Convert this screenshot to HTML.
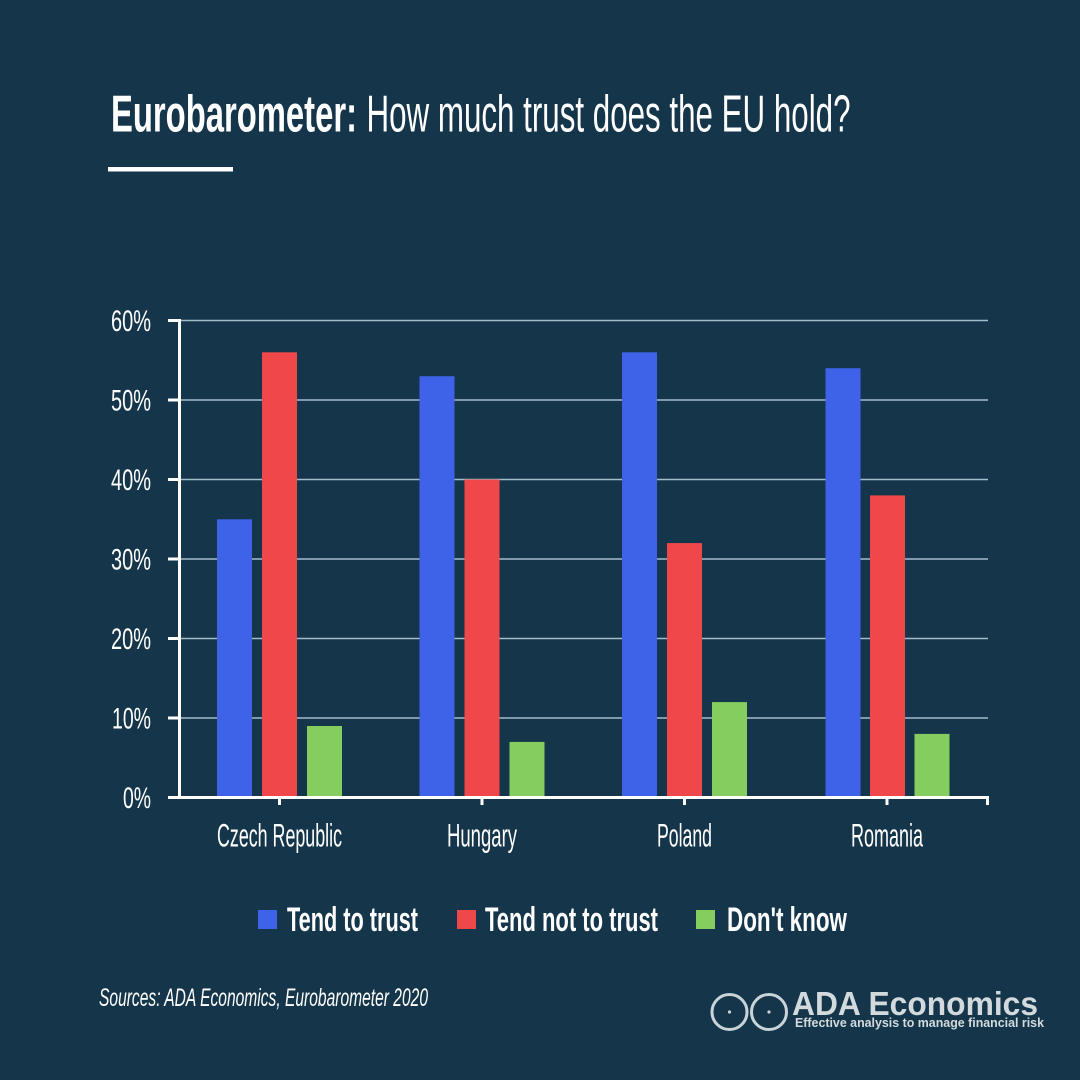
<!DOCTYPE html>
<html>
<head>
<meta charset="utf-8">
<style>
  html, body { margin: 0; padding: 0; background: #15364a; }
  svg { display: block; }
  .n { font-family: "Liberation Sans Narrow", "Liberation Sans", sans-serif; fill: #ffffff; }
</style>
</head>
<body>
<svg width="1080" height="1080" viewBox="0 0 1080 1080" xmlns="http://www.w3.org/2000/svg">
  <rect x="0" y="0" width="1080" height="1080" fill="#15364a"/>

  <!-- Title -->
  <text class="n" x="111" y="131.5" font-size="52" font-weight="bold" textLength="246" lengthAdjust="spacingAndGlyphs">Eurobarometer:</text>
  <text class="n" x="366.5" y="131.5" font-size="52" textLength="484" lengthAdjust="spacingAndGlyphs">How much trust does the EU hold?</text>
  <rect x="108" y="167" width="125" height="4.5" fill="#ffffff"/>

  <!-- Gridlines -->
  <g stroke="#a3bccb" stroke-width="1.5">
    <line x1="181" y1="320.5" x2="988" y2="320.5"/>
    <line x1="181" y1="400" x2="988" y2="400"/>
    <line x1="181" y1="479.5" x2="988" y2="479.5"/>
    <line x1="181" y1="559" x2="988" y2="559"/>
    <line x1="181" y1="638.5" x2="988" y2="638.5"/>
    <line x1="181" y1="718" x2="988" y2="718"/>
  </g>

  <!-- Bars: Czech Republic c=279.5 -->
  <rect x="217" y="519.3" width="35" height="278.2" fill="#3e62e8"/>
  <rect x="262" y="352.3" width="35" height="445.2" fill="#f0484a"/>
  <rect x="307" y="726" width="35" height="71.5" fill="#84cd5e"/>
  <!-- Hungary c=482 -->
  <rect x="419.5" y="376.2" width="35" height="421.3" fill="#3e62e8"/>
  <rect x="464.5" y="479.5" width="35" height="318" fill="#f0484a"/>
  <rect x="509.5" y="741.9" width="35" height="55.6" fill="#84cd5e"/>
  <!-- Poland c=684.5 -->
  <rect x="622" y="352.3" width="35" height="445.2" fill="#3e62e8"/>
  <rect x="667" y="543.1" width="35" height="254.4" fill="#f0484a"/>
  <rect x="712" y="702.1" width="35" height="95.4" fill="#84cd5e"/>
  <!-- Romania c=887.5 -->
  <rect x="825.5" y="368.2" width="35" height="429.3" fill="#3e62e8"/>
  <rect x="870" y="495.4" width="35" height="302.1" fill="#f0484a"/>
  <rect x="914.5" y="733.9" width="35" height="63.6" fill="#84cd5e"/>

  <!-- Axes -->
  <g fill="#ffffff">
    <rect x="178" y="319" width="3" height="480"/>
    <rect x="168" y="796" width="821" height="3"/>
    <!-- left ticks -->
    <rect x="168" y="319" width="11" height="3"/>
    <rect x="168" y="398.5" width="11" height="3"/>
    <rect x="168" y="478" width="11" height="3"/>
    <rect x="168" y="557.5" width="11" height="3"/>
    <rect x="168" y="637" width="11" height="3"/>
    <rect x="168" y="716.5" width="11" height="3"/>
    <!-- bottom ticks -->
    <rect x="278" y="797" width="3" height="8"/>
    <rect x="480.5" y="797" width="3" height="8"/>
    <rect x="683" y="797" width="3" height="8"/>
    <rect x="885.5" y="797" width="3" height="8"/>
    <rect x="986" y="797" width="3" height="8"/>
  </g>

  <!-- Y tick labels -->
  <g class="n" font-size="30" text-anchor="end">
    <text x="151" y="331" textLength="40" lengthAdjust="spacingAndGlyphs">60%</text>
    <text x="151" y="410.5" textLength="40" lengthAdjust="spacingAndGlyphs">50%</text>
    <text x="151" y="490" textLength="40" lengthAdjust="spacingAndGlyphs">40%</text>
    <text x="151" y="569.5" textLength="40" lengthAdjust="spacingAndGlyphs">30%</text>
    <text x="151" y="649" textLength="40" lengthAdjust="spacingAndGlyphs">20%</text>
    <text x="151" y="728.5" textLength="39" lengthAdjust="spacingAndGlyphs">10%</text>
    <text x="151" y="808" textLength="28" lengthAdjust="spacingAndGlyphs">0%</text>
  </g>

  <!-- Category labels -->
  <g class="n" font-size="32">
    <text x="217" y="846.5" textLength="125" lengthAdjust="spacingAndGlyphs">Czech Republic</text>
    <text x="447" y="846.5" textLength="70" lengthAdjust="spacingAndGlyphs">Hungary</text>
    <text x="657" y="846.5" textLength="55" lengthAdjust="spacingAndGlyphs">Poland</text>
    <text x="851" y="846.5" textLength="72" lengthAdjust="spacingAndGlyphs">Romania</text>
  </g>

  <!-- Legend -->
  <rect x="258" y="910" width="19" height="19" fill="#3e62e8"/>
  <text class="n" x="287" y="931" font-size="34" font-weight="bold" textLength="131" lengthAdjust="spacingAndGlyphs">Tend to trust</text>
  <rect x="457" y="910" width="19" height="19" fill="#f0484a"/>
  <text class="n" x="485" y="931" font-size="34" font-weight="bold" textLength="173" lengthAdjust="spacingAndGlyphs">Tend not to trust</text>
  <rect x="696" y="910" width="19" height="19" fill="#84cd5e"/>
  <text class="n" x="727" y="931" font-size="34" font-weight="bold" textLength="120" lengthAdjust="spacingAndGlyphs">Don't know</text>

  <!-- Sources -->
  <text class="n" x="99" y="1006" font-size="25" font-style="italic" textLength="329" lengthAdjust="spacingAndGlyphs">Sources: ADA Economics, Eurobarometer 2020</text>

  <!-- Logo -->
  <g stroke="#c9d3d8" stroke-width="3" fill="none">
    <circle cx="729.5" cy="1012" r="17.5"/>
    <circle cx="769" cy="1012" r="17.5"/>
  </g>
  <circle cx="729.5" cy="1012" r="1.6" fill="#c9d3d8"/>
  <circle cx="769" cy="1012" r="1.6" fill="#c9d3d8"/>
  <text x="792" y="1015" font-family="Liberation Sans, sans-serif" font-size="33" font-weight="bold" fill="#d3dadd" textLength="246" lengthAdjust="spacingAndGlyphs">ADA Economics</text>
  <text x="795" y="1027" font-family="Liberation Sans, sans-serif" font-size="12.5" font-weight="bold" fill="#d3dadd" textLength="249" lengthAdjust="spacingAndGlyphs">Effective analysis to manage financial risk</text>
</svg>
</body>
</html>
